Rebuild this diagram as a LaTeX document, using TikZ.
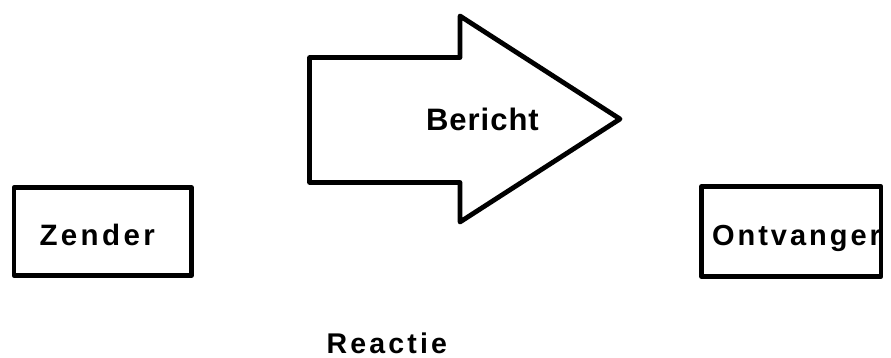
\documentclass[tikz,border=0pt]{standalone}
\usepackage{fontspec}
\setmainfont{Liberation Sans}
\newcommand\ls[1]{\kern#1pt\relax}
\tikzset{
  boxshape/.style={draw=black, line width=4.5pt, line join=round, rectangle, inner sep=0pt, outer sep=0pt},
  arrowline/.style={draw=black, line width=4.8pt, line join=round, line cap=round},
  lbl/.style={inner sep=0pt, outer sep=0pt, anchor=base west, text=black, font=\bfseries}
}
\begin{document}
\begin{tikzpicture}[x=1pt, y=-1pt]
\useasboundingbox (0,0) rectangle (891,358);
% big arrow
\draw[arrowline] (309.5,57.5) -- (460,57.5) -- (460,16) -- (620,119) -- (460,222) -- (460,182.5) -- (309.5,182.5) -- cycle;
\node[lbl] (bericht) at (426,131) {\fontsize{31}{31}\selectfont B\ls{1}e\ls{1}r\ls{1}i\ls{1}c\ls{1}h\ls{1}t};
% Zender
\node[boxshape, minimum width=177.5pt, minimum height=88pt] (zender) at (102.75,231.5) {};
\node[lbl] (zendertxt) at (39.5,245) {\fontsize{29.5}{29.5}\selectfont Z\ls{3.4}e\ls{3.4}n\ls{3.4}d\ls{3.4}e\ls{3.4}r};
% Ontvanger
\node[lbl] (ontvtxt) at (712,245) {\fontsize{29}{29}\selectfont O\ls{3}n\ls{3}t\ls{3}v\ls{3}a\ls{3}n\ls{3}g\ls{3}e\ls{3}r};
\fill[white] (883.5,180) rectangle (891,285);
\node[boxshape, minimum width=179.5pt, minimum height=90pt] (ontvanger) at (791.25,231.5) {};
% Reactie
\node[lbl] (reactie) at (326.5,353.5) {\fontsize{28.5}{28.5}\selectfont R\ls{3.2}e\ls{3.2}a\ls{3.2}c\ls{3.2}t\ls{3.2}i\ls{3.2}e};
\end{tikzpicture}
\end{document}
